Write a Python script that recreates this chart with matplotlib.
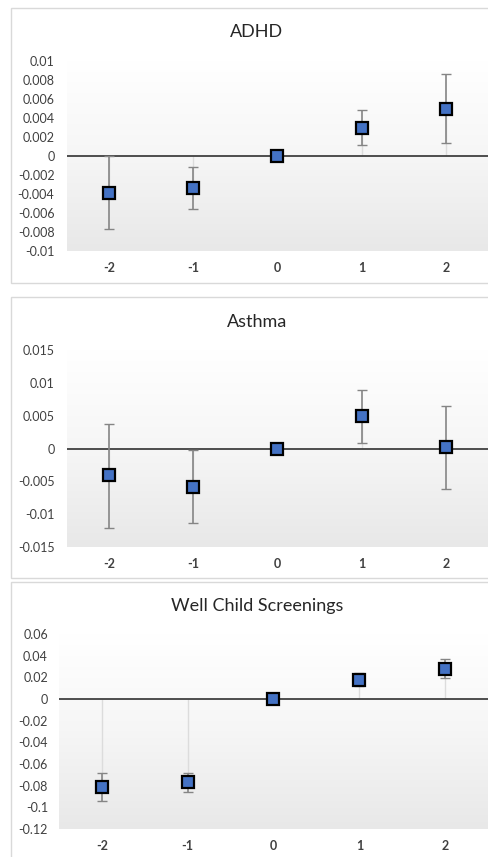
import numpy as np
import matplotlib
matplotlib.use("Agg")
import matplotlib.pyplot as plt
from matplotlib.patches import Rectangle
from matplotlib.colors import LinearSegmentedColormap

plt.rcParams['font.family'] = ['Lato', 'DejaVu Sans']

years = [-2, -1, 0, 1, 2]

# ADHD
adhd_est = [-0.0039, -0.0034, 0.0, 0.0030, 0.0050]
adhd_lo = [-0.0077, -0.0056, 0.0, 0.0012, 0.0014]
adhd_hi = [0.0, -0.0012, 0.0, 0.0048, 0.0086]
adhd_ticks = [0.01, 0.008, 0.006, 0.004, 0.002, 0, -0.002, -0.004, -0.006, -0.008, -0.01]

# Asthma
asthma_est = [-0.0041, -0.0059, 0.0, 0.0050, 0.0002]
asthma_lo = [-0.0121, -0.0114, 0.0, 0.0009, -0.0061]
asthma_hi = [0.0038, -0.0002, 0.0, 0.0089, 0.0064]
asthma_ticks = [0.015, 0.01, 0.005, 0, -0.005, -0.01, -0.015]

# Well child screenings
wcs_est = [-0.081, -0.077, 0.0, 0.018, 0.028]
wcs_lo = [-0.094, -0.086, 0.0, 0.012, 0.019]
wcs_hi = [-0.068, -0.068, 0.0, 0.024, 0.037]
wcs_ticks = [0.06, 0.04, 0.02, 0, -0.02, -0.04, -0.06, -0.08, -0.1, -0.12]

W, H = 489, 857
fig = plt.figure(figsize=(W / 100, H / 100), dpi=100)

# panel frames
for top, bot in [(8, 283), (297, 578), (582, 880)]:
    fig.add_artist(Rectangle((11 / W, 1 - bot / H), 1.0, (bot - top) / H,
                             transform=fig.transFigure, facecolor='white',
                             edgecolor='#d9d9d9', linewidth=1.0, zorder=0))

grad_cmap = LinearSegmentedColormap.from_list('g', ['#e8e8e8', '#f6f6f6', '#ffffff'])
grad = np.linspace(0, 1, 256).reshape(-1, 1)


def panel(left, right, top, bottom, title, title_y, est, lo, hi, ticks, labels, ypad):
    ax = fig.add_axes([left / W, 1 - bottom / H, (right - left) / W, (bottom - top) / H])
    ax.set_zorder(2)
    ax.imshow(grad, extent=[0, 1, 0, 1], transform=ax.transAxes, aspect='auto',
              cmap=grad_cmap, origin='lower', zorder=0)
    ax.set_xlim(-2.5, 2.5)
    ax.set_ylim(min(ticks), max(ticks))
    est = np.array(est)
    lo = np.array(lo)
    hi = np.array(hi)
    # faint drop lines from zero
    ax.vlines(years, 0, est, color='#dcdcdc', linewidth=1.0, zorder=1)
    ax.axhline(0, color='#404040', linewidth=1.3, zorder=2)
    ax.errorbar(years, est, yerr=[est - lo, hi - est], fmt='none',
                ecolor='#858585', elinewidth=1.2, capsize=3.5, capthick=1.0, zorder=3)
    ax.plot(years, est, 's', markersize=8.5, markerfacecolor='#4472c4',
            markeredgecolor='black', markeredgewidth=1.6, zorder=4)
    for s in ax.spines.values():
        s.set_visible(False)
    ax.set_yticks(ticks)
    ax.set_yticklabels(labels, fontsize=9, color='#404040')
    ax.set_xticks(years)
    ax.set_xticklabels([str(y) for y in years], fontsize=9, fontweight='bold', color='#404040')
    ax.tick_params(length=0, axis='y', pad=ypad)
    ax.tick_params(length=0, axis='x', pad=8)
    fig.text(257 / W, 1 - title_y / H, title, ha='center', va='center',
             fontsize=13, color='#262626')
    return ax


panel(67, 488, 61, 251, 'ADHD', 32, adhd_est, adhd_lo, adhd_hi, adhd_ticks,
      ['0.01', '0.008', '0.006', '0.004', '0.002', '0', '-0.002', '-0.004', '-0.006', '-0.008', '-0.01'], 9)
panel(67, 488, 350, 547, 'Asthma', 322, asthma_est, asthma_lo, asthma_hi, asthma_ticks,
      ['0.015', '0.01', '0.005', '0', '-0.005', '-0.01', '-0.015'], 9)
panel(59, 488, 634, 829, 'Well Child Screenings', 606, wcs_est, wcs_lo, wcs_hi, wcs_ticks,
      ['0.06', '0.04', '0.02', '0', '-0.02', '-0.04', '-0.06', '-0.08', '-0.1', '-0.12'], 8)

fig.savefig('out.png', dpi=100)
